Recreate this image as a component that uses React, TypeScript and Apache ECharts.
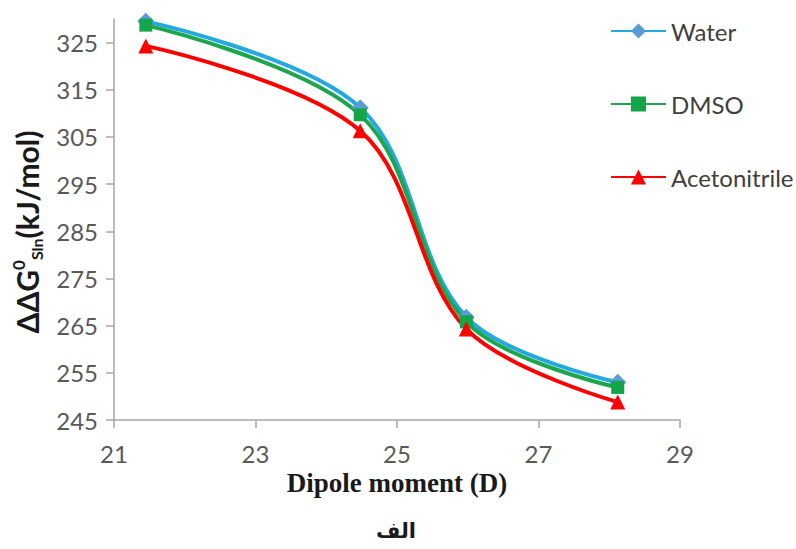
import React, { useEffect, useRef } from "react";
import * as echarts from "echarts";

const dipole = [21.45, 24.48, 25.98, 28.12];
const water = [329.5, 311.2, 266.8, 253.0];
const dmso = [328.7, 309.7, 265.8, 251.9];
const acetonitrile = [324.3, 306.3, 264.3, 248.8];
const yTicks = [245, 255, 265, 275, 285, 295, 305, 315, 325];
const seriesNames = ["Water", "DMSO", "Acetonitrile"];

const pair = (ys: number[]) => dipole.map((x, i) => [x, ys[i]]);

export default function App() {
  const ref = useRef<HTMLDivElement>(null);
  useEffect(() => {
    document.body.style.margin = "0";
    if (!ref.current) return;
    const chart = echarts.init(ref.current, null, { renderer: "svg" });
    const labelFont = "Lato, 'Open Sans', sans-serif";
    const axisColor = "#a6a6a6";
    chart.setOption({
      animation: false,
      backgroundColor: "#ffffff",
      grid: { left: 114, right: 116, top: 19, bottom: 129 },
      legend: {
        orient: "vertical",
        left: 605,
        top: 14,
        itemWidth: 55,
        itemHeight: 19,
        itemGap: 49,
        data: seriesNames,
        textStyle: { fontFamily: labelFont, fontSize: 24, color: "#404040", lineHeight: 24 },
      },
      xAxis: {
        type: "value",
        min: 21,
        max: 29,
        interval: 2,
        splitLine: { show: false },
        axisLine: { lineStyle: { color: axisColor, width: 1.5 } },
        axisTick: { length: 8, lineStyle: { color: axisColor, width: 1.5 } },
        axisLabel: { margin: 21, fontFamily: labelFont, fontSize: 24, color: "#595959" },
        name: "Dipole moment (D)",
        nameLocation: "middle",
        nameGap: 49,
        nameTextStyle: {
          fontFamily: "'Liberation Serif', 'Times New Roman', serif",
          fontWeight: "bold",
          fontSize: 27,
          color: "#1a1a1a",
        },
      },
      yAxis: {
        type: "value",
        min: 245,
        max: 330,
        splitLine: { show: false },
        axisLine: { show: true, lineStyle: { color: axisColor, width: 1.5 } },
        axisTick: { show: true, length: 8, customValues: yTicks, lineStyle: { color: axisColor, width: 1.5 } },
        axisLabel: { margin: 16, customValues: yTicks, fontFamily: labelFont, fontSize: 24, color: "#595959" },
      },
      graphic: [
        {
          type: "text",
          x: 27,
          y: 232,
          rotation: Math.PI / 2,
          style: {
            text: "{a|ΔΔG}{sup|0}{sub|Sln}{a|(kJ/mol)}",
            align: "center",
            verticalAlign: "middle",
            rich: {
              a: { fontFamily: labelFont, fontWeight: "bold", fontSize: 30, fill: "#1a1a1a", lineHeight: 34 },
              sup: { fontFamily: labelFont, fontWeight: "bold", fontSize: 17, fill: "#1a1a1a", verticalAlign: "top", lineHeight: 34 },
              sub: { fontFamily: labelFont, fontWeight: "bold", fontSize: 16, fill: "#1a1a1a", verticalAlign: "bottom", lineHeight: 34 },
            },
          },
        },
        {
          type: "text",
          x: 396,
          y: 531,
          style: {
            text: "الف",
            align: "center",
            verticalAlign: "middle",
            fontFamily: "'DejaVu Sans', sans-serif",
            fontWeight: "bold",
            fontSize: 21,
            fill: "#1a1a1a",
          },
        },
      ],
      series: [
        {
          name: "Water",
          type: "line",
          data: pair(water),
          smooth: 0.35,
          clip: false,
          symbol: "diamond",
          symbolSize: 17,
          lineStyle: { color: "#22a9e1", width: 4 },
          itemStyle: { color: "#5b9bd5" },
        },
        {
          name: "DMSO",
          type: "line",
          data: pair(dmso),
          smooth: 0.35,
          clip: false,
          symbol: "rect",
          symbolSize: 13,
          lineStyle: { color: "#1ea64e", width: 4 },
          itemStyle: { color: "#14a44a" },
        },
        {
          name: "Acetonitrile",
          type: "line",
          data: pair(acetonitrile),
          smooth: 0.35,
          clip: false,
          symbol: "triangle",
          symbolSize: 15,
          lineStyle: { color: "#ff0000", width: 4 },
          itemStyle: { color: "#ff0000" },
        },
      ],
    });
    return () => chart.dispose();
  }, []);
  return <div ref={ref} style={{ width: 796, height: 549 }} />;
}
